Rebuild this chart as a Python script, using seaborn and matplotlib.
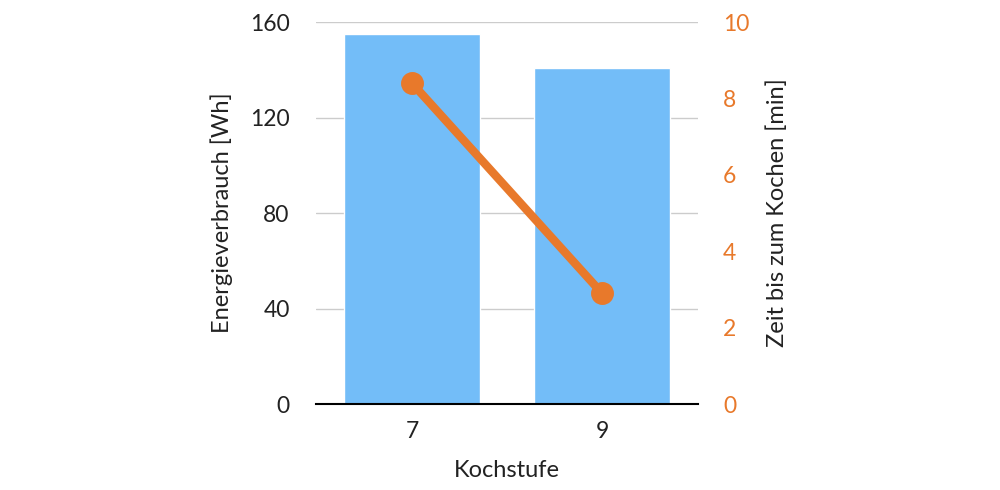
import matplotlib
matplotlib.use("Agg")
import matplotlib.pyplot as plt
import seaborn as sns

# Daten
kochstufen = ["7", "9"]
energie_wh = [155, 140.6]
zeit_min = [8.4, 2.9]

blau = "#73BDF8"
orange = "#E8792B"

sns.set_style("white")
plt.rcParams["font.family"] = ["Lato", "DejaVu Sans"]

fig = plt.figure(figsize=(10, 4.9), dpi=100)
ax = fig.add_axes([0.316, 0.1755, 0.382, 0.7795])

sns.barplot(x=kochstufen, y=energie_wh, color=blau, saturation=1, width=0.716, ax=ax)
ax.set_xlim(-0.505, 1.505)
ax.set_ylim(0, 160)
ax.set_yticks([0, 40, 80, 120, 160])
ax.set_axisbelow(True)
ax.yaxis.grid(True, color="#cccccc", linewidth=1)
for s in ["top", "right", "left"]:
    ax.spines[s].set_visible(False)
ax.spines["bottom"].set_color("black")
ax.spines["bottom"].set_linewidth(1.5)
ax.tick_params(axis="both", length=0, labelsize=16.5, colors="#222222")
ax.tick_params(axis="y", pad=19)
ax.tick_params(axis="x", pad=12)
ax.set_xlabel("Kochstufe", fontsize=17, labelpad=13, color="#222222")
ax.set_ylabel("Energieverbrauch [Wh]", fontsize=17, labelpad=12, color="#222222")

ax2 = ax.twinx()
sns.pointplot(x=kochstufen, y=zeit_min, color=orange, ax=ax2,
              linewidth=6, markersize=12)
ax2.set_xlim(-0.505, 1.505)
ax2.set_ylim(0, 10)
ax2.set_yticks([0, 2, 4, 6, 8, 10])
for s in ["top", "right", "left", "bottom"]:
    ax2.spines[s].set_visible(False)
ax2.tick_params(axis="y", length=0, labelsize=16.5, colors=orange, pad=18)
ax2.set_ylabel("Zeit bis zum Kochen [min]", fontsize=17, labelpad=12, color="#222222")

fig.savefig("out.png", dpi=100)
